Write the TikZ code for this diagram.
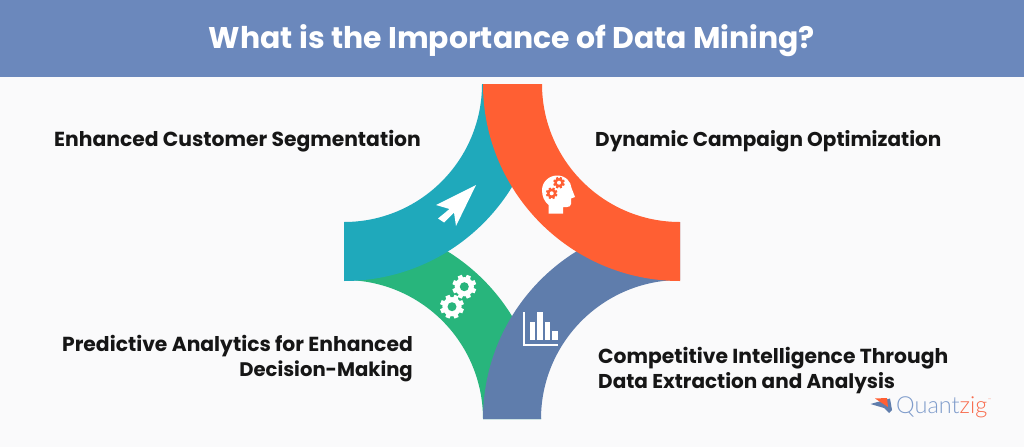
\documentclass[tikz,border=0pt]{standalone}
\usepackage{fontspec}
\setmainfont{Poppins}[BoldFont={Poppins Bold}]
\newfontfamily\logofont{Lato}[UprightFont={* Light}]
\definecolor{bgc}{HTML}{FAFAFB}
\definecolor{headc}{HTML}{6B88BC}
\definecolor{tealc}{HTML}{1FA9BB}
\definecolor{orangec}{HTML}{FF5F33}
\definecolor{greenc}{HTML}{28B57C}
\definecolor{bluec}{HTML}{5F7DAC}
\definecolor{inkc}{HTML}{161616}
\definecolor{logob}{HTML}{7F9CCB}
\definecolor{logoo}{HTML}{F8694A}
\newcommand{\band}[5]{% color, cx, cy, start angle, inner radius
  \fill[#1] ({#2+#5*cos(#4)},{#3+#5*sin(#4)}) arc[start angle=#4,delta angle=90,radius=#5]
    -- ({#2+197*cos(#4+90)},{#3+197*sin(#4+90)}) arc[start angle=#4+90,delta angle=-90,radius=197] -- cycle;}
\newcommand{\cog}[6]{%
  \begin{scope}[shift={(#1,#2)}]
    \foreach \a in {0,45,...,315}{
      \fill[#5,rotate=\a+22.5] (-#3*0.26,0) -- (-#3*0.18,#3) -- (#3*0.18,#3) -- (#3*0.26,0) -- cycle;}
    \fill[#5] (0,0) circle[radius=#3*0.8];
    \fill[#6] (0,0) circle[radius=#4];
  \end{scope}}
\tikzset{
  lab/.style={font=\fontsize{#1}{24}\selectfont\bfseries,text=inkc,inner sep=0pt},
  lab/.default=20.3,
  iconw/.style={fill=white}
}
\begin{document}
\begin{tikzpicture}[x=1pt,y=-1pt]
\useasboundingbox (0,0) rectangle (1024,447);
\fill[bgc] (0,0) rectangle (1024,447);
\fill[headc] (0,0) rectangle (1024,77);
\node[font=\fontsize{29.9}{34}\selectfont\bfseries,text=white,inner sep=0pt,anchor=base] (title) at (512,48) {What is the Importance of Data Mining?};
% bands
\band{greenc}{344}{419}{-90}{139}
\band{tealc}{344}{84}{0}{138}
\band{bluec}{680}{419}{180}{139}
\band{orangec}{680}{84}{90}{138}
% cursor
\fill[iconw] (476,185) -- (436,205) -- (449.5,209) -- (438,218.5) -- (444,222.5) -- (454,212.5) -- (456,226) -- cycle;
% head
\fill[iconw] (548.5,213.5) -- (548.5,205) .. controls (544,201) and (542,196) .. (542,190)
  .. controls (542,182) and (549,175.5) .. (557,175.5) .. controls (566,175.5) and (571,182) .. (571.5,188)
  -- (575,197) -- (571,198.5) -- (571,204) .. controls (571,206) and (569,207) .. (567,207) -- (563,207) -- (563,213.5) -- cycle;
\cog{559}{182.7}{5.8}{2}{orangec}{white}
\cog{551.7}{193.3}{5.8}{2}{orangec}{white}
% gears
\cog{464.3}{286.7}{12}{4.5}{white}{greenc}
\cog{452}{306.7}{12}{4.5}{white}{greenc}
% bars
\fill[iconw] (523.3,311.7) rectangle (525.3,345.7);
\fill[iconw] (523.3,343.7) rectangle (558,345.7);
\fill[iconw] (529.7,321.7) rectangle (535,340);
\fill[iconw] (537,311.7) rectangle (543,340);
\fill[iconw] (544.7,321.7) rectangle (550.3,340);
\fill[iconw] (552.3,331) rectangle (558,340);
% labels
\node[lab,anchor=base west] (seg) at (54,146) {Enhanced Customer Segmentation};
\node[lab=20.0,anchor=base west] (dyn) at (595,146) {Dynamic Campaign Optimization};
\node[lab,anchor=base east] (pred1) at (413,351) {Predictive Analytics for Enhanced};
\node[lab=19.6,anchor=base east] (pred2) at (413,376) {Decision-Making};
\node[lab,anchor=base west] (comp1) at (598,363) {Competitive Intelligence Through};
\node[lab=20.0,anchor=base west] (comp2) at (598,388) {Data Extraction and Analysis};
% logo
\fill[bluec] (870.5,404) -- (890,398.5) -- (892,410) -- (889,413) -- (884,408) -- cycle;
\fill[orangec] (875,398.5) -- (887,398) -- (888,407) -- cycle;
\node[font=\logofont\fontsize{23.5}{24}\selectfont,inner sep=0pt,anchor=base west] (logo) at (896,413) {\textcolor{logob}{Quant}\textcolor{logoo}{zig}};
\node[font=\logofont\fontsize{4}{4}\selectfont,text=logoo,inner sep=0pt,anchor=north west] (tm) at (988,398) {™};
\end{tikzpicture}
\end{document}
